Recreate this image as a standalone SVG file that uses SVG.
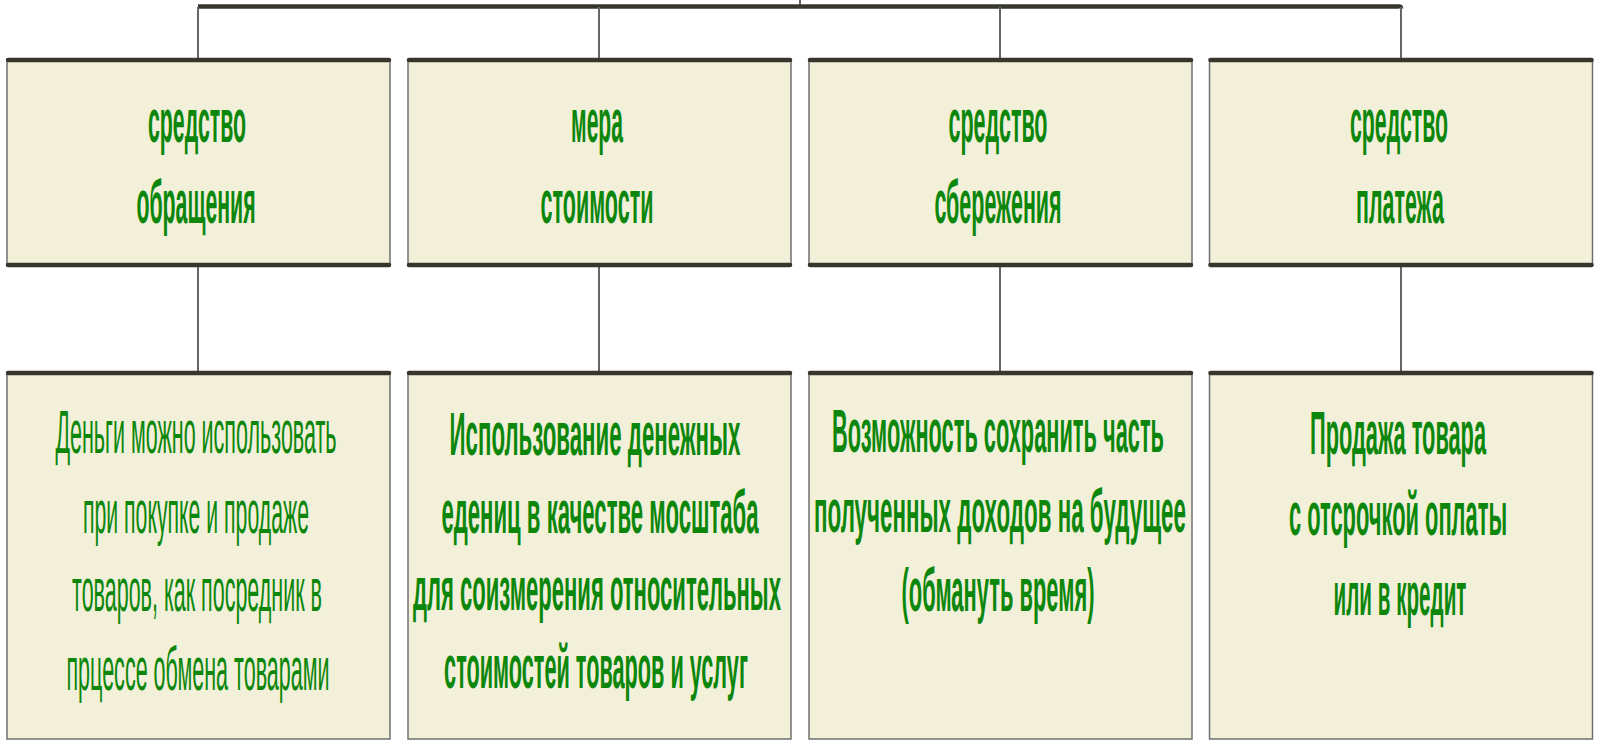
<svg xmlns="http://www.w3.org/2000/svg" width="1600" height="741" viewBox="0 0 1600 741">
<style>
.box{fill:#f3f0d9;stroke:#707070;stroke-width:1.5}
.edge{stroke:#38362c;stroke-width:4.5;stroke-linecap:round;fill:none}
.conn{stroke:#666;stroke-width:2;fill:none}
.bar{stroke:#38362c;stroke-width:4.5;fill:none;stroke-linejoin:round}
.t{font-family:"Liberation Sans",Arial,sans-serif;font-size:62px;fill:#0c870c;text-anchor:middle}
.b{font-weight:bold}
</style>
<rect width="1600" height="741" fill="#ffffff"/>
<g id="connectors">
<line class="conn" x1="800" y1="0" x2="800" y2="5"/>
<path class="bar" d="M198 6.5 H1399 Q1401 6.5 1401 8.5"/>
<line class="conn" x1="198" y1="7" x2="198" y2="60"/>
<line class="conn" x1="599" y1="7" x2="599" y2="60"/>
<line class="conn" x1="1000" y1="7" x2="1000" y2="60"/>
<line class="conn" x1="1401" y1="7" x2="1401" y2="60"/>
<line class="conn" x1="198" y1="265" x2="198" y2="373"/>
<line class="conn" x1="599" y1="265" x2="599" y2="373"/>
<line class="conn" x1="1000" y1="265" x2="1000" y2="373"/>
<line class="conn" x1="1401" y1="265" x2="1401" y2="373"/>
</g>
<g id="top1">
<rect class="box" x="7" y="60" width="383" height="205"/>
<line class="edge" x1="8" y1="60" x2="389" y2="60"/><line class="edge" x1="8" y1="265" x2="389" y2="265"/>
<text class="t b" transform="translate(197 142) scale(0.36 1)" textLength="272" lengthAdjust="spacingAndGlyphs">средство</text>
<text class="t b" transform="translate(196 223) scale(0.36 1)" textLength="331" lengthAdjust="spacingAndGlyphs">обращения</text>
</g>
<g id="top2">
<rect class="box" x="408" y="60" width="383" height="205"/>
<line class="edge" x1="409" y1="60" x2="790" y2="60"/><line class="edge" x1="409" y1="265" x2="790" y2="265"/>
<text class="t b" transform="translate(597 142) scale(0.36 1)" textLength="144" lengthAdjust="spacingAndGlyphs">мера</text>
<text class="t b" transform="translate(597 223) scale(0.36 1)" textLength="314" lengthAdjust="spacingAndGlyphs">стоимости</text>
</g>
<g id="top3">
<rect class="box" x="809" y="60" width="383" height="205"/>
<line class="edge" x1="810" y1="60" x2="1191" y2="60"/><line class="edge" x1="810" y1="265" x2="1191" y2="265"/>
<text class="t b" transform="translate(998 142) scale(0.36 1)" textLength="275" lengthAdjust="spacingAndGlyphs">средство</text>
<text class="t b" transform="translate(998 223) scale(0.36 1)" textLength="353" lengthAdjust="spacingAndGlyphs">сбережения</text>
</g>
<g id="top4">
<rect class="box" x="1209.5" y="60" width="383" height="205"/>
<line class="edge" x1="1210.5" y1="60" x2="1591.5" y2="60"/><line class="edge" x1="1210.5" y1="265" x2="1591.5" y2="265"/>
<text class="t b" transform="translate(1399 142) scale(0.36 1)" textLength="272" lengthAdjust="spacingAndGlyphs">средство</text>
<text class="t b" transform="translate(1400 223) scale(0.36 1)" textLength="244" lengthAdjust="spacingAndGlyphs">платежа</text>
</g>
<g id="bottom1">
<rect class="box" x="7" y="373" width="383" height="366"/>
<line class="edge" x1="8" y1="373" x2="389" y2="373"/>
<text class="t" transform="translate(196 453) scale(0.36 1)" textLength="781" lengthAdjust="spacingAndGlyphs">Деньги можно использовать</text>
<text class="t" transform="translate(196 533) scale(0.36 1)" textLength="628" lengthAdjust="spacingAndGlyphs">при покупке и продаже</text>
<text class="t" transform="translate(197 611) scale(0.36 1)" textLength="694" lengthAdjust="spacingAndGlyphs">товаров, как посредник в</text>
<text class="t" transform="translate(198 690) scale(0.36 1)" textLength="731" lengthAdjust="spacingAndGlyphs">прцессе обмена товарами</text>
</g>
<g id="bottom2">
<rect class="box" x="408" y="373" width="383" height="366"/>
<line class="edge" x1="409" y1="373" x2="790" y2="373"/>
<text class="t b" transform="translate(595 455) scale(0.36 1)" textLength="808" lengthAdjust="spacingAndGlyphs">Использование денежных</text>
<text class="t b" transform="translate(600 533) scale(0.36 1)" textLength="881" lengthAdjust="spacingAndGlyphs">едениц в качестве мосштаба</text>
<text class="t b" transform="translate(597 610) scale(0.36 1)" textLength="1022" lengthAdjust="spacingAndGlyphs">для соизмерения относительных</text>
<text class="t b" transform="translate(596 688) scale(0.36 1)" textLength="844" lengthAdjust="spacingAndGlyphs">стоимостей товаров и услуг</text>
</g>
<g id="bottom3">
<rect class="box" x="809" y="373" width="383" height="366"/>
<line class="edge" x1="810" y1="373" x2="1191" y2="373"/>
<text class="t b" transform="translate(998 452) scale(0.36 1)" textLength="922" lengthAdjust="spacingAndGlyphs">Возможность сохранить часть</text>
<text class="t b" transform="translate(1000 532) scale(0.36 1)" textLength="1033" lengthAdjust="spacingAndGlyphs">полученных доходов на будущее</text>
<text class="t b" transform="translate(998 611) scale(0.36 1)" textLength="536" lengthAdjust="spacingAndGlyphs">(обмануть время)</text>
</g>
<g id="bottom4">
<rect class="box" x="1209.5" y="373" width="383" height="366"/>
<line class="edge" x1="1210.5" y1="373" x2="1591.5" y2="373"/>
<text class="t b" transform="translate(1398 454) scale(0.36 1)" textLength="489" lengthAdjust="spacingAndGlyphs">Продажа товара</text>
<text class="t b" transform="translate(1398 535) scale(0.36 1)" textLength="606" lengthAdjust="spacingAndGlyphs">с отсрочкой оплаты</text>
<text class="t b" transform="translate(1400 615) scale(0.36 1)" textLength="369" lengthAdjust="spacingAndGlyphs">или в кредит</text>
</g>
</svg>
